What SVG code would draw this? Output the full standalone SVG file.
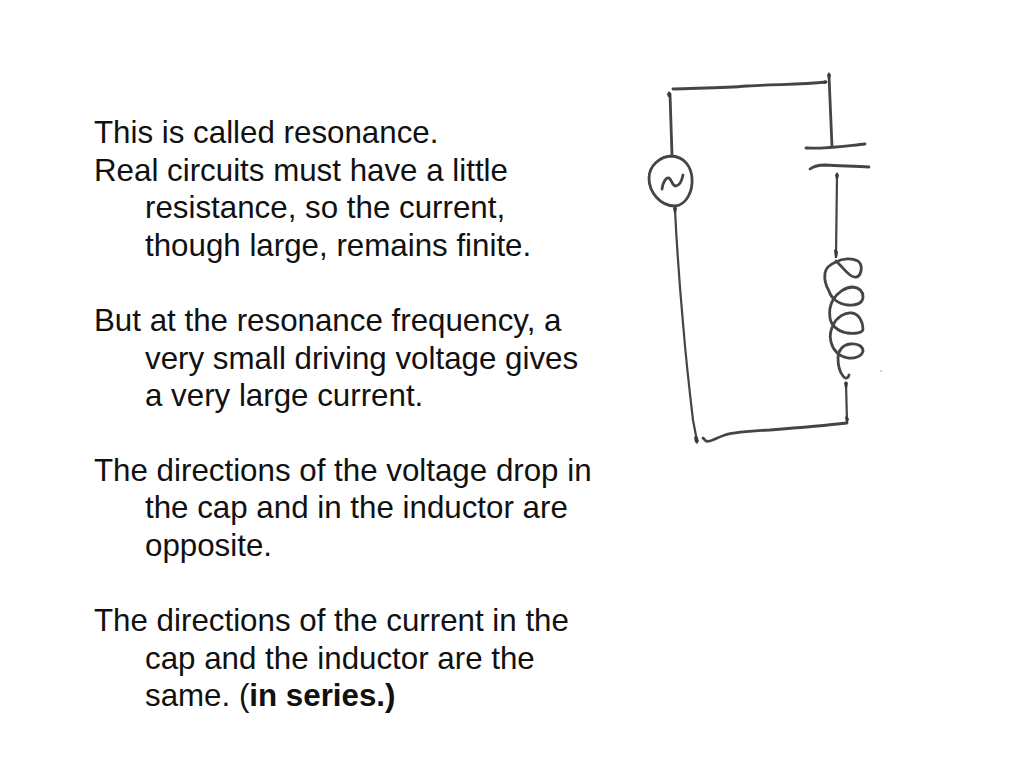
<svg xmlns="http://www.w3.org/2000/svg" width="1024" height="768" viewBox="0 0 1024 768">
<style>
text{font-family:"Liberation Sans",Arial,sans-serif;font-size:31.3px;fill:#111}
.w{fill:none;stroke:#444;stroke-width:2.8;stroke-linecap:round;stroke-linejoin:round}
.t{stroke-width:2.2}
.d{fill:#3a3a3a;stroke:none}
</style>
<defs><filter id="soft" x="-5%" y="-5%" width="110%" height="110%"><feGaussianBlur stdDeviation="0.35"/></filter></defs>
<rect width="1024" height="768" fill="#fff"/>
<g id="text">
<text x="94" y="143">This is called resonance.</text>
<text x="94" y="181">Real circuits must have a little</text>
<text x="145" y="218">resistance, so the current,</text>
<text x="145" y="256">though large, remains finite.</text>
<text x="94" y="331">But at the resonance frequency, a</text>
<text x="145" y="369">very small driving voltage gives</text>
<text x="145" y="406">a very large current.</text>
<text x="94" y="481">The directions of the voltage drop in</text>
<text x="145" y="518">the cap and in the inductor are</text>
<text x="145" y="556">opposite.</text>
<text x="94" y="631">The directions of the current in the</text>
<text x="145" y="669">cap and the inductor are the</text>
<text x="145" y="706">same. (<tspan font-weight="bold">in series.)</tspan></text>
</g>
<g id="connectors" filter="url(#soft)">
<path class="w" d="M670 94L672 155"/>
<path class="w" d="M673 89C700 88 725 88 747 86C775 84 800 85 826 82"/>
<path class="w" d="M829 76L832 147"/>
<path class="w t" d="M837 176L836 256"/>
<path class="w t" d="M846 383L847 422"/>
<path class="w" d="M847 423C820 426 795 428 770 430C750 431 735 432 725 435C715 438 710 443 706 441L703 438"/>
<path class="w t" d="M675 210C677 250 680 290 683 323C686 360 690 395 693 420L697 441"/>
<path class="d" d="M667 94l2-3 2 3-1 3h-2zM825 80l2 2-2 2-3-1zM827 75l2-3 2 3-1 3h-2zM673 208l2-3 2 3-1 5h-2zM835 175l2-3 2 3-1 4h-2zM834 250l2-1 2 3-1 6h-2zM844 383l2-2 2 2-1 5h-2zM845 417l2-1 2 3-1 3h-2zM694 437l3-1 2 5-2 3-2-2z"/>
</g>
<g id="source" filter="url(#soft)">
<path class="w" d="M672 156C660 156 649 166 649 178C649 192 660 206 675 206C686 205 693 192 692 178C691 166 684 157 672 156Z"/>
<path class="w" d="M662 189C663 182 666 177 669 178C672 180 672 186 676 186C680 185 682 180 683 175"/>
</g>
<g id="capacitor" filter="url(#soft)">
<path class="w" d="M806 148C825 149 845 146 865 144"/>
<path class="w" d="M810 169C814 166 818 165 825 165C840 166 855 166 869 167"/>
</g>
<g id="inductor" filter="url(#soft)">
<path class="w" d="M849 375C848 379 845 379 843 376C839 371 838 365 838 358C838 350 843 345 850 344C857 343 863 346 863 351C862 356 855 359 848 358C838 356 833 350 831 342C829 335 831 330 833 325C837 317 845 312 852 313C859 314 863 322 863 329C863 333 855 334 847 333C837 331 831 325 830 318C829 311 830 305 833 300C837 293 845 287 853 287C860 288 863 292 863 297C863 303 856 306 848 305C838 304 831 298 829 291C826 286 824 280 825 273C826 267 831 264 836 262C843 258 852 258 858 261C862 264 862 270 860 274C858 278 854 278 850 275C846 272 843 268 840 265L836 261"/>
</g>
<path id="speck" d="M880 371h2" stroke="#aaa" stroke-width="1"/>
</svg>
